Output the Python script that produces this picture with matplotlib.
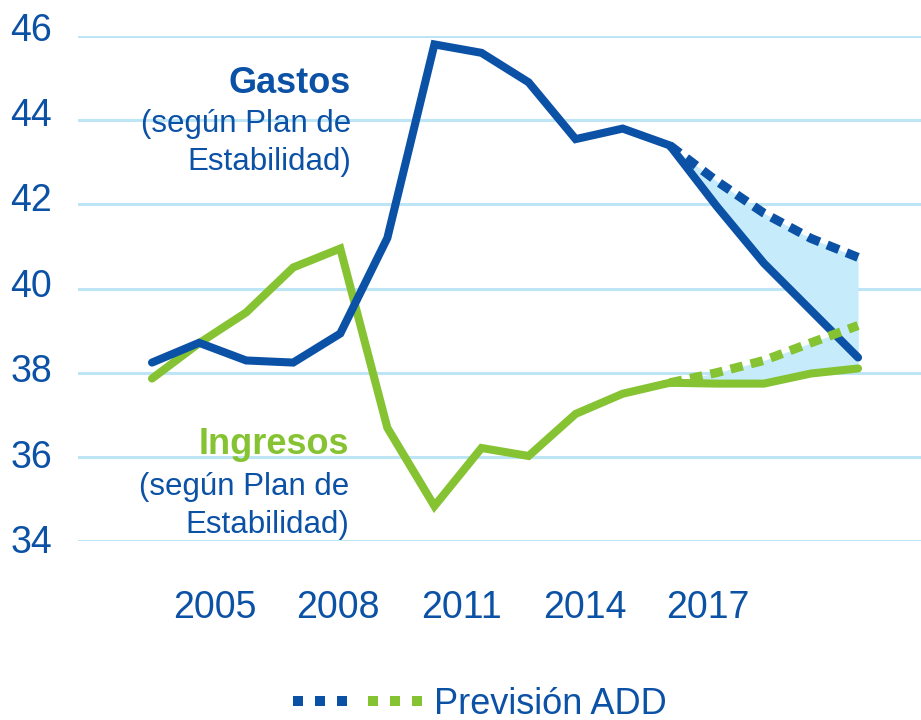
import numpy as np
import matplotlib
matplotlib.use('Agg')
import matplotlib.pyplot as plt
import matplotlib.transforms as mtrans
from matplotlib.legend_handler import HandlerTuple
from matplotlib.lines import Line2D

plt.rcParams['font.family'] = ['Liberation Sans', 'DejaVu Sans']

# data (% del PIB)
years = np.arange(2003, 2019)
gastos = [38.24, 38.71, 38.29, 38.24, 38.93, 41.2, 45.8, 45.6, 44.9, 43.55,
          43.8, 43.4, 41.95, 40.6, 39.48, 38.36]
ingresos = [37.86, 38.7, 39.43, 40.5, 40.95, 36.69, 34.83, 36.21, 36.02, 37.02,
            37.5, 37.76, 37.74, 37.74, 37.98, 38.1]
years_add = np.arange(2014, 2019)
gastos_add = [43.4, 42.55, 41.79, 41.19, 40.74]
ingresos_add = [37.76, 38.0, 38.29, 38.71, 39.12]
tick_labels = ['2005', '2008', '2011', '2014', '2017']
yticks = [34, 36, 38, 40, 42, 44, 46]

blue = '#0B51A5'
green = '#86C332'
grid = '#BDE5F6'
fillc = '#C6ECFC'

W, H = 921, 720
fig = plt.figure(figsize=(W / 100, H / 100), dpi=100)
ax = fig.add_axes([78 / W, 1 - 541 / H, 1 - 78 / W, (541 - 36) / H])

ax.set_xlim(2003 - 74 / 47.07, 2003 + (921 - 152) / 47.07)
ax.set_ylim(34, 46)

for v in yticks:
    ax.axhline(v, color=grid, lw=2.2, zorder=0)

# shaded gap between forecasts
ax.fill_between(years_add, gastos_add, gastos[-5:], color=fillc, lw=0, zorder=1)
ax.fill_between(years_add, ingresos_add, ingresos[-5:], color=fillc, lw=0, zorder=1)

ax.plot(years, ingresos, color=green, lw=5.8, solid_capstyle='round', solid_joinstyle='miter', zorder=3)
ax.plot(years, gastos, color=blue, lw=5.8, solid_capstyle='round', solid_joinstyle='miter', zorder=4)
ax.plot(years_add, ingresos_add, color=green, lw=6.5, dashes=(1.4, 0.9),
        dash_capstyle='butt', zorder=5)
ax.plot(years_add, gastos_add, color=blue, lw=6.5, dashes=(1.4, 0.9),
        dash_capstyle='butt', zorder=5)

for s in ax.spines.values():
    s.set_visible(False)
ax.set_yticks(yticks)
ax.set_yticklabels([str(v) for v in yticks], fontsize=27, color=blue)
ax.set_xticks(2003 + np.linspace(1.34, 11.81, 5))
ax.set_xticklabels(tick_labels, fontsize=27, color=blue)
ax.tick_params(axis='y', length=0, pad=18.5)
ax.tick_params(axis='x', length=0, pad=35)
# labels sit a bit above their gridlines, more so towards the top
for v, t in zip(yticks, ax.get_yticklabels()):
    up = 2 + 7.5 * (v - 34) / 12
    t.set_transform(t.get_transform() + mtrans.ScaledTranslation(0, up / 100, fig.dpi_scale_trans))


def px(x, y):
    return x / W, 1 - y / H


fig.text(*px(351, 93), 'Gastos', color=blue, fontsize=26, fontweight='bold', ha='right', va='baseline')
fig.text(*px(351, 132), '(según Plan de', color=blue, fontsize=22.5, ha='right', va='baseline')
fig.text(*px(351, 170), 'Estabilidad)', color=blue, fontsize=22.5, ha='right', va='baseline')
fig.text(*px(349, 454), 'Ingresos', color=green, fontsize=26, fontweight='bold', ha='right', va='baseline')
fig.text(*px(349, 495), '(según Plan de', color=blue, fontsize=22.5, ha='right', va='baseline')
fig.text(*px(349, 533), 'Estabilidad)', color=blue, fontsize=22.5, ha='right', va='baseline')

hb = Line2D([0], [0], color=blue, lw=7.2, dashes=(1, 1.2), dash_capstyle='butt')
hg = Line2D([0], [0], color=green, lw=7.2, dashes=(1, 1.2), dash_capstyle='butt')
fig.legend([(hb, hg)], ['Previsión ADD'], handler_map={tuple: HandlerTuple(ndivide=None, pad=0.58)},
           loc='center', bbox_to_anchor=(480 / W, 1 - 704 / H), frameon=False, fontsize=26,
           labelcolor=blue, handlelength=3.58, handletextpad=0.33, borderpad=0)

fig.savefig('out.png', dpi=100)
